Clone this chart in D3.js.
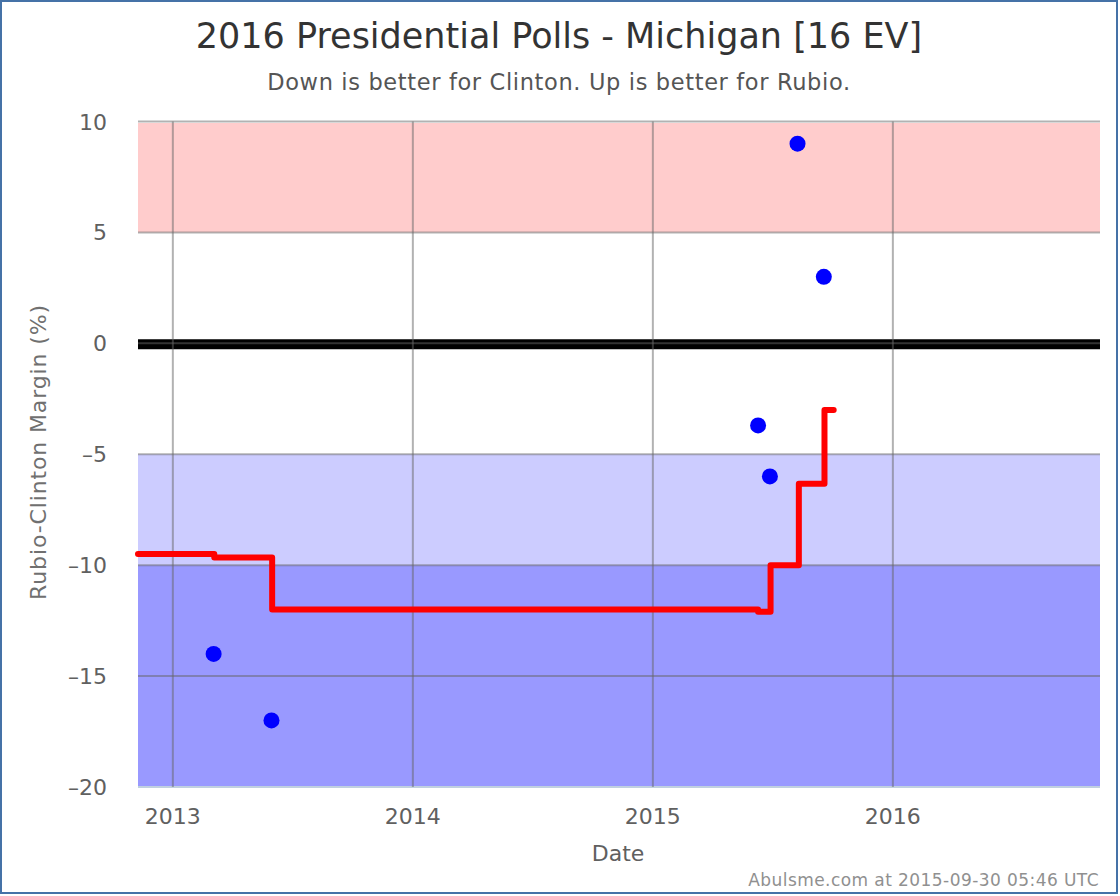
<!DOCTYPE html>
<html>
<head>
<meta charset="utf-8">
<script src="https://cdnjs.cloudflare.com/ajax/libs/d3/7.8.5/d3.min.js"></script>
<style>
  html, body { margin: 0; padding: 0; background: #fff; }
  svg { display: block; font-family: "DejaVu Sans", sans-serif; }
</style>
</head>
<body>
<div id="chart"></div>
<script>
// polls
const pollDates = ["2013-03-04", "2013-05-31", "2015-06-10", "2015-06-28", "2015-08-09", "2015-09-18"];
const pollMargins = [-14, -17, -3.7, -6, 9, 3];

// running average, changes at each poll
const avgDates = ["2012-11-09", "2013-03-05", "2013-06-01", "2015-06-10", "2015-06-29", "2015-08-11", "2015-09-19", "2015-10-03"];
const avgMargins = [-9.5, -9.65, -12, -12.1, -10, -6.33, -3, -3];

const yTicks = [10, 5, 0, -5, -10, -15, -20];
const xTickYears = [2013, 2014, 2015, 2016];

const bandFrom = [10, -5, -10];
const bandTo = [5, -10, -20];
const bandColors = ["#ffcccc", "#ccccff", "#9999ff"];

const width = 1120;
const height = 896;
const marginTop = 121.5;
const marginRight = 20;
const marginBottom = 109;
const marginLeft = 138;

const parseDate = d3.utcParse("%Y-%m-%d");

const x = d3
  .scaleUtc()
  .domain([parseDate("2012-11-09"), parseDate("2016-11-11")])
  .range([marginLeft, width - marginRight]);

const y = d3
  .scaleLinear()
  .domain([10, -20])
  .range([marginTop, height - marginBottom]);

const svg = d3
  .select("#chart")
  .append("svg")
  .attr("width", width)
  .attr("height", height)
  .attr("viewBox", [0, 0, width, height]);

// outer border
svg
  .append("rect")
  .attr("x", 1)
  .attr("y", 1)
  .attr("width", 1116)
  .attr("height", 892)
  .attr("fill", "#fff")
  .attr("stroke", "#4572a7")
  .attr("stroke-width", 2);

// bands, only the top one has the small white gap under its grid line
const topGap = (i) => (i == 0 ? 1.5 : 0);

svg
  .append("g")
  .selectAll("rect")
  .data(bandFrom)
  .join("rect")
  .attr("x", marginLeft)
  .attr("width", width - marginRight - marginLeft)
  .attr("y", (d, i) => y(d) + topGap(i))
  .attr("height", (d, i) => y(bandTo[i]) - y(d) - topGap(i))
  .attr("fill", (d, i) => bandColors[i]);

// bottom axis line
svg
  .append("line")
  .attr("x1", marginLeft)
  .attr("x2", width - marginRight)
  .attr("y1", y(-20))
  .attr("y2", y(-20))
  .attr("stroke", "#c0d0e0")
  .attr("stroke-width", 2);

// zero line sits under the grid
svg
  .append("line")
  .attr("x1", marginLeft)
  .attr("x2", width - marginRight)
  .attr("y1", y(0) + 1)
  .attr("y2", y(0) + 1)
  .attr("stroke", "#000")
  .attr("stroke-width", 10);

// grid
const grid = svg.append("g").attr("stroke", "#666").attr("stroke-opacity", 0.5).attr("stroke-width", 2);
grid
  .selectAll(".h")
  .data(yTicks.slice(0, -1))
  .join("line")
  .attr("class", "h")
  .attr("x1", marginLeft)
  .attr("x2", width - marginRight)
  .attr("y1", (d) => y(d))
  .attr("y2", (d) => y(d));
grid
  .selectAll(".v")
  .data(xTickYears)
  .join("line")
  .attr("class", "v")
  .attr("x1", (d) => x(Date.UTC(d, 0, 1)))
  .attr("x2", (d) => x(Date.UTC(d, 0, 1)))
  .attr("y1", marginTop)
  .attr("y2", height - marginBottom);

// running average
const line = d3
  .line()
  .x((d, i) => x(parseDate(avgDates[i])))
  .y((d) => y(d))
  .curve(d3.curveStepAfter);

svg
  .append("path")
  .attr("d", line(avgMargins))
  .attr("fill", "none")
  .attr("stroke", "#ff0000")
  .attr("stroke-width", 6)
  .attr("stroke-linecap", "round")
  .attr("stroke-linejoin", "round");

// polls
svg
  .append("g")
  .selectAll("circle")
  .data(pollMargins)
  .join("circle")
  .attr("cx", (d, i) => x(parseDate(pollDates[i])))
  .attr("cy", (d) => y(d))
  .attr("r", 8)
  .attr("fill", "#0000ff");

// axis labels
svg
  .append("g")
  .attr("font-size", 22)
  .attr("fill", "#606060")
  .attr("text-anchor", "end")
  .selectAll("text")
  .data(yTicks)
  .join("text")
  .attr("x", 107)
  .attr("y", (d) => y(d) + 8)
  .text((d) => String(d).replace("-", "\u2013"));

svg
  .append("g")
  .attr("font-size", 22)
  .attr("fill", "#606060")
  .attr("text-anchor", "middle")
  .selectAll("text")
  .data(xTickYears)
  .join("text")
  .attr("x", (d) => x(Date.UTC(d, 0, 1)))
  .attr("y", 824)
  .text((d) => d);

svg
  .append("text")
  .attr("x", 618)
  .attr("y", 861)
  .attr("text-anchor", "middle")
  .attr("font-size", 22)
  .attr("fill", "#606060")
  .text("Date");

svg
  .append("text")
  .attr("transform", "translate(46,452) rotate(-90)")
  .attr("text-anchor", "middle")
  .attr("font-size", 22)
  .attr("letter-spacing", 0.87)
  .attr("fill", "#707070")
  .text("Rubio-Clinton Margin (%)");

// titles
svg
  .append("text")
  .attr("x", 559)
  .attr("y", 48)
  .attr("text-anchor", "middle")
  .attr("font-size", 35)
  .attr("fill", "#333333")
  .text("2016 Presidential Polls - Michigan [16 EV]");

svg
  .append("text")
  .attr("x", 559)
  .attr("y", 90)
  .attr("text-anchor", "middle")
  .attr("font-size", 22.5)
  .attr("letter-spacing", 0.64)
  .attr("fill", "#555555")
  .text("Down is better for Clinton. Up is better for Rubio.");

svg
  .append("text")
  .attr("x", 1099)
  .attr("y", 886)
  .attr("text-anchor", "end")
  .attr("font-size", 17)
  .attr("letter-spacing", 0.43)
  .attr("fill", "#909090")
  .text("Abulsme.com at 2015-09-30 05:46 UTC");
</script>
</body>
</html>
